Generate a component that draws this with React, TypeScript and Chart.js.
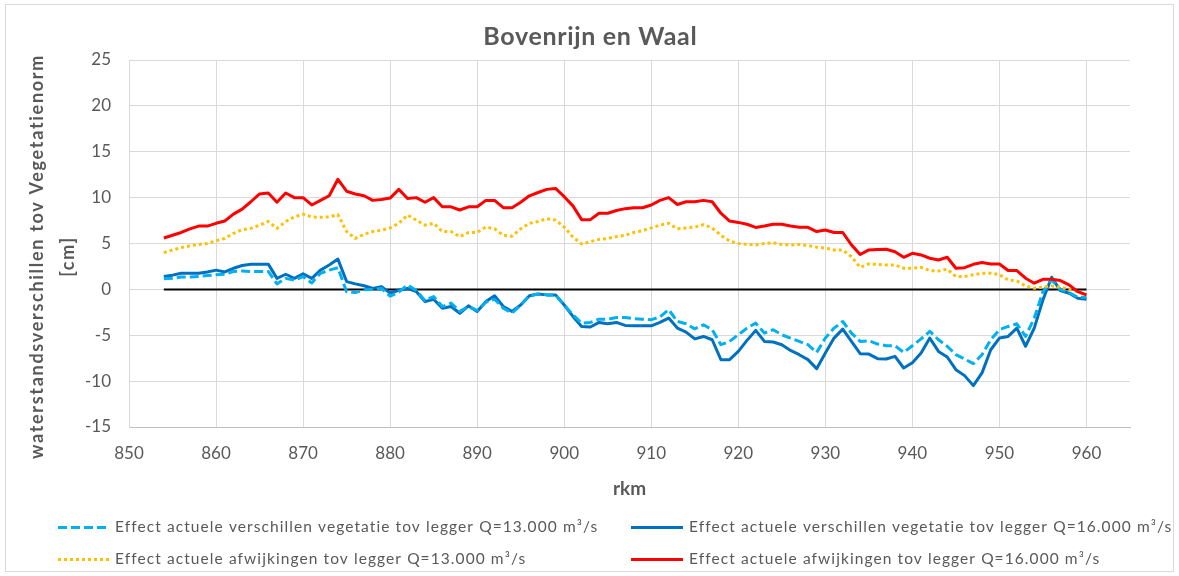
import React, { useEffect, useRef } from "react";
import { Chart, registerables } from "chart.js";

Chart.register(...registerables);

const TITLE = "Bovenrijn en Waal";
const X_TITLE = "rkm";
const Y_TITLE = ["waterstandsverschillen tov Vegetatienorm", "[cm]"];

const KM = [
  854, 855, 856, 857, 858, 859, 860, 861, 862, 863, 864, 865, 866, 867, 868, 869, 870, 871,
  872, 873, 874, 875, 876, 877, 878, 879, 880, 881, 882, 883, 884, 885, 886, 887, 888, 889,
  890, 891, 892, 893, 894, 895, 896, 897, 898, 899, 900, 901, 902, 903, 904, 905, 906, 907,
  908, 909, 910, 911, 912, 913, 914, 915, 916, 917, 918, 919, 920, 921, 922, 923, 924, 925,
  926, 927, 928, 929, 930, 931, 932, 933, 934, 935, 936, 937, 938, 939, 940, 941, 942, 943,
  944, 945, 946, 947, 948, 949, 950, 951, 952, 953, 954, 955, 956, 957, 958, 959, 960,
];

// Effect actuele verschillen vegetatie tov legger Q=13.000 m3/s (dashed light blue)
const VER_13 = [
  1.15, 1.2, 1.35, 1.35, 1.4, 1.5, 1.6, 1.65, 1.95, 2.0, 1.95, 1.95, 1.95, 0.6, 1.2, 1.0, 1.4, 0.7,
  1.75, 2.1, 2.35, -0.25, -0.35, -0.05, 0.0, 0.1, -0.75, -0.3, 0.49, -0.13, -1.2, -0.78, -1.87, -1.5,
  -2.4, -1.87, -2.3, -1.4, -1.07, -2.05, -2.6, -1.7, -0.7, -0.5, -0.6, -0.6, -1.7, -2.77, -3.68, -3.6,
  -3.25, -3.25, -3.06, -3.06, -3.2, -3.25, -3.3, -3.0, -2.2, -3.5, -3.75, -4.3, -3.86, -4.4, -6.03,
  -5.67, -4.95, -4.22, -3.68, -4.76, -4.4, -4.95, -5.31, -5.67, -6.03, -6.87, -5.31, -4.22, -3.5,
  -4.76, -5.67, -5.6, -5.96, -6.14, -6.14, -6.87, -6.14, -5.4, -4.58, -5.49, -6.2, -7.12, -7.59,
  -8.1, -7.12, -5.49, -4.4, -4.04, -3.75, -5.13, -3.13, -0.24, 1.03, 0.0, -0.35, -0.85, -0.85,
];

// Effect actuele verschillen vegetatie tov legger Q=16.000 m3/s (solid blue)
const VER_16 = [
  1.4, 1.55, 1.75, 1.75, 1.75, 1.9, 2.1, 1.9, 2.3, 2.6, 2.75, 2.75, 2.75, 1.2, 1.65, 1.2, 1.7, 1.2,
  2.1, 2.65, 3.3, 0.85, 0.6, 0.4, 0.1, 0.3, -0.4, -0.1, 0.1, -0.24, -1.33, -1.07, -2.05, -1.87,
  -2.6, -1.8, -2.4, -1.33, -0.7, -1.87, -2.4, -1.7, -0.7, -0.5, -0.6, -0.6, -1.7, -2.95, -4.04, -4.1,
  -3.6, -3.75, -3.6, -3.93, -3.97, -3.97, -3.97, -3.6, -3.13, -4.22, -4.66, -5.4, -5.13, -5.49, -7.66,
  -7.66, -6.76, -5.56, -4.47, -5.67, -5.74, -6.03, -6.65, -7.12, -7.66, -8.64, -6.94, -5.31, -4.33,
  -5.67, -7.01, -7.05, -7.55, -7.59, -7.3, -8.57, -8.0, -6.94, -5.31, -6.76, -7.37, -8.75, -9.4,
  -10.49, -9.1, -6.58, -5.31, -5.13, -4.22, -6.2, -4.22, -1.14, 1.32, -0.13, -0.42, -0.96, -1.07,
];

// Effect actuele afwijkingen tov legger Q=13.000 m3/s (dotted gold)
const AFW_13 = [
  4.0, 4.3, 4.55, 4.75, 4.9, 5.0, 5.3, 5.55, 6.1, 6.5, 6.65, 7.0, 7.4, 6.65, 7.4, 7.9, 8.2, 7.9,
  7.85, 7.9, 8.15, 6.3, 5.55, 6.0, 6.3, 6.45, 6.7, 7.2, 8.1, 7.55, 7.0, 7.2, 6.3, 6.3, 5.75, 6.2,
  6.2, 6.8, 6.6, 5.9, 5.8, 6.6, 7.2, 7.4, 7.7, 7.55, 6.8, 5.7, 4.95, 5.2, 5.45, 5.55, 5.75, 5.9,
  6.2, 6.4, 6.7, 7.0, 7.2, 6.6, 6.7, 6.8, 7.05, 6.7, 5.9, 5.27, 5.0, 4.9, 4.84, 5.0, 5.08, 4.9,
  4.84, 4.9, 4.77, 4.6, 4.5, 4.3, 4.3, 3.56, 2.4, 2.77, 2.72, 2.66, 2.66, 2.3, 2.3, 2.4, 2.05, 2.0,
  2.2, 1.4, 1.4, 1.6, 1.76, 1.76, 1.6, 1.03, 0.92, 0.38, 0.13, 0.24, 0.38, 0.24, 0.0, -0.25, -0.6,
];

// Effect actuele afwijkingen tov legger Q=16.000 m3/s (solid red)
const AFW_16 = [
  5.6, 5.9, 6.2, 6.6, 6.9, 6.9, 7.2, 7.45, 8.2, 8.75, 9.55, 10.4, 10.5, 9.5, 10.5, 10.0, 10.0, 9.2,
  9.7, 10.2, 12.0, 10.7, 10.4, 10.2, 9.7, 9.8, 9.95, 10.9, 9.9, 10.0, 9.5, 10.0, 9.0, 9.0, 8.65, 9.0,
  9.0, 9.7, 9.7, 8.9, 8.9, 9.5, 10.2, 10.56, 10.9, 11.0, 10.1, 9.1, 7.6, 7.6, 8.3, 8.3, 8.6, 8.8,
  8.9, 8.9, 9.2, 9.7, 10.0, 9.25, 9.55, 9.55, 9.7, 9.55, 8.3, 7.45, 7.3, 7.1, 6.75, 6.9, 7.1, 7.1,
  6.9, 6.76, 6.76, 6.3, 6.47, 6.2, 6.2, 4.85, 3.8, 4.3, 4.35, 4.37, 4.1, 3.5, 3.93, 3.75, 3.39, 3.2,
  3.5, 2.3, 2.37, 2.73, 2.92, 2.77, 2.77, 2.05, 2.05, 1.22, 0.67, 1.1, 1.1, 0.96, 0.49, -0.25, -0.6,
];

// zero reference line
const ZERO_X = [854, 960];
const ZERO_Y = [0, 0];

const X_TICKS_MIN = 850;
const X_TICKS_MAX = 965;
const Y_MIN = -15;
const Y_MAX = 25;

const LABELS = [
  "Effect actuele verschillen vegetatie tov legger Q=13.000 m³/s",
  "Effect actuele verschillen vegetatie tov legger Q=16.000 m³/s",
  "Effect actuele afwijkingen tov legger Q=13.000 m³/s",
  "Effect actuele afwijkingen tov legger Q=16.000 m³/s",
];

const TEXT_COLOR = "#595959";
const FONT = "Lato, 'Open Sans', sans-serif";

const toPts = (ys: number[]) => KM.map((x, i) => ({ x, y: ys[i] }));

const decorPlugin = {
  id: "decor",
  afterDraw(chart: any) {
    const ctx = chart.ctx as CanvasRenderingContext2D;
    ctx.save();
    // outer chart border
    ctx.strokeStyle = "#d9d9d9";
    ctx.lineWidth = 1;
    ctx.strokeRect(5.5, 4.5, 1168, 567);

    // title
    ctx.fillStyle = TEXT_COLOR;
    ctx.font = `bold 25px ${FONT}`;
    (ctx as any).letterSpacing = "0px";
    const tw = ctx.measureText(TITLE).width;
    const tls = Math.max(0, (214 - tw) / TITLE.length);
    (ctx as any).letterSpacing = `${tls}px`;
    ctx.textAlign = "center";
    ctx.textBaseline = "alphabetic";
    ctx.fillText(TITLE, 590 + tls / 2, 45);

    // legend
    ctx.font = `15.5px ${FONT}`;
    (ctx as any).letterSpacing = "0px";
    const lw = ctx.measureText(LABELS[0]).width;
    const lls = Math.max(0, (483 - lw) / LABELS[0].length);
    const cols = [
      { sx: 58, tx: 115 },
      { sx: 631, tx: 689 },
    ];
    const rows = [527, 559];
    const ds = chart.data.datasets;
    for (let i = 0; i < 4; i++) {
      const d = ds[i];
      const c = cols[i % 2];
      const ry = rows[Math.floor(i / 2)];
      ctx.save();
      ctx.strokeStyle = d.borderColor;
      ctx.lineWidth = d.borderWidth;
      ctx.setLineDash(d.borderDash || []);
      ctx.lineCap = "butt";
      ctx.beginPath();
      ctx.moveTo(c.sx, ry + 0.5);
      ctx.lineTo(c.sx + 52, ry + 0.5);
      ctx.stroke();
      ctx.restore();
      ctx.fillStyle = TEXT_COLOR;
      (ctx as any).letterSpacing = `${lls}px`;
      ctx.textAlign = "left";
      ctx.textBaseline = "alphabetic";
      ctx.fillText(d.label, c.tx, ry + 5);
    }
    (ctx as any).letterSpacing = "0px";
    ctx.restore();
  },
};

// give the y-axis title Excel-like letter spacing and centre it like the reference
const styleYTitle = (s: any) => {
  s.width = 119;
  if (!s.__wrapped) {
    const orig = s.drawTitle.bind(s);
    s.drawTitle = () => {
      const ctx = s.ctx;
      ctx.save();
      (ctx as any).letterSpacing = "1.7px";
      ctx.translate(0, 13);
      orig();
      ctx.restore();
    };
    s.__wrapped = true;
  }
};

export default function App() {
  const ref = useRef<HTMLCanvasElement | null>(null);

  useEffect(() => {
    if (!ref.current) return;
    const chart = new Chart(ref.current, {
      type: "line",
      data: {
        datasets: [
          {
            label: LABELS[0],
            data: toPts(VER_13),
            borderColor: "#00B0F0",
            backgroundColor: "#00B0F0",
            borderWidth: 3,
            borderDash: [9, 4],
            order: 3,
          },
          {
            label: LABELS[1],
            data: toPts(VER_16),
            borderColor: "#0070C0",
            backgroundColor: "#0070C0",
            borderWidth: 3,
            order: 4,
          },
          {
            label: LABELS[2],
            data: toPts(AFW_13),
            borderColor: "#FFC000",
            backgroundColor: "#FFC000",
            borderWidth: 3,
            borderDash: [3, 3],
            order: 2,
          },
          {
            label: LABELS[3],
            data: toPts(AFW_16),
            borderColor: "#FF0000",
            backgroundColor: "#FF0000",
            borderWidth: 3,
            order: 1,
          },
          {
            label: "0",
            data: ZERO_X.map((x, i) => ({ x, y: ZERO_Y[i] })),
            borderColor: "#000000",
            backgroundColor: "#000000",
            borderWidth: 2,
            order: 5,
          },
        ],
      },
      options: {
        animation: false,
        responsive: false,
        devicePixelRatio: 1,
        events: [],
        elements: {
          point: { radius: 0 },
          line: { tension: 0, borderJoinStyle: "round", borderCapStyle: "butt" },
        },
        layout: { padding: { left: 10, right: 49, top: 60, bottom: 69 } },
        plugins: {
          legend: { display: false },
          title: { display: false },
          tooltip: { enabled: false },
        },
        scales: {
          x: {
            type: "linear",
            min: X_TICKS_MIN,
            max: X_TICKS_MAX,
            afterFit: (s: any) => {
              s.height = 80;
            },
            ticks: {
              stepSize: 10,
              includeBounds: false,
              color: TEXT_COLOR,
              font: { family: FONT, size: 17 },
              padding: 16,
              maxRotation: 0,
              autoSkip: false,
            },
            grid: { color: "#d9d9d9", lineWidth: 1, drawTicks: false },
            border: { color: "#bfbfbf", width: 1 },
            title: {
              display: true,
              text: X_TITLE,
              color: TEXT_COLOR,
              font: { family: FONT, size: 19, weight: "bold" },
              padding: { top: 0, bottom: 7 },
            },
          },
          y: {
            type: "linear",
            min: Y_MIN,
            max: Y_MAX,
            afterFit: styleYTitle,
            ticks: {
              stepSize: 5,
              color: TEXT_COLOR,
              font: { family: FONT, size: 17 },
              padding: 18,
            },
            grid: { color: "#d9d9d9", lineWidth: 1, drawTicks: false },
            border: { color: "#d9d9d9", width: 1 },
            title: {
              display: true,
              text: Y_TITLE,
              color: TEXT_COLOR,
              font: { family: FONT, size: 18, weight: "bold", lineHeight: 1.72 },
              padding: { top: 12, bottom: 0 },
            },
          },
        },
      },
      plugins: [decorPlugin],
    } as any);
    return () => chart.destroy();
  }, []);

  return (
    <div style={{ position: "fixed", left: 0, top: 0, width: 1179, height: 576, background: "#fff" }}>
      <canvas ref={ref} width={1179} height={576} style={{ display: "block", width: 1179, height: 576 }} />
    </div>
  );
}
